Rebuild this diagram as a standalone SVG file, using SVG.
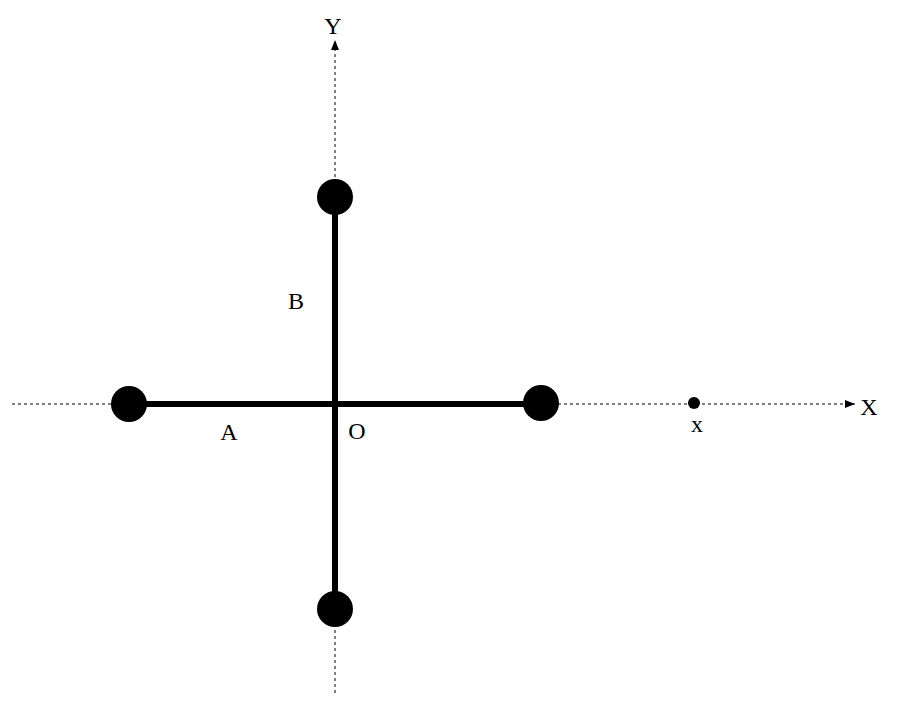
<svg xmlns="http://www.w3.org/2000/svg" width="900" height="703" viewBox="0 0 900 703">
<style>
.ax{stroke:#000;stroke-width:1;stroke-dasharray:3,3;fill:none}
.bar{stroke:#000;stroke-width:6}
.t{font-family:"Liberation Serif",serif;font-size:24px;fill:#000;text-anchor:middle}
</style>
<defs><marker id="ar" viewBox="0 0 10 10" refX="10" refY="5" markerWidth="10" markerHeight="10" markerUnits="userSpaceOnUse" orient="auto"><path d="M0,1 L10,5 L0,9 Z" fill="#000"/></marker></defs>
<rect width="900" height="703" fill="#fff"/>
<g id="connectors">
<line class="ax" x1="12" y1="404" x2="855" y2="404" marker-end="url(#ar)"/>
<line class="ax" x1="335" y1="693" x2="335" y2="40" marker-end="url(#ar)"/>
<line class="bar" x1="129" y1="404" x2="541" y2="404"/>
<line class="bar" x1="335" y1="197" x2="335" y2="609"/>
</g>
<g id="top"><circle cx="335" cy="197" r="18"/></g>
<g id="left"><circle cx="129" cy="404" r="18"/></g>
<g id="right"><circle cx="541" cy="403" r="18"/></g>
<g id="bottom"><circle cx="335" cy="609" r="18"/></g>
<g id="xpt"><circle cx="694" cy="403" r="6"/></g>
<text class="t" x="333" y="34">Y</text>
<text class="t" x="869" y="415">X</text>
<text class="t" x="296" y="309">B</text>
<text class="t" x="229" y="440">A</text>
<text class="t" x="357" y="439">O</text>
<text class="t" x="697" y="432">x</text>
</svg>
